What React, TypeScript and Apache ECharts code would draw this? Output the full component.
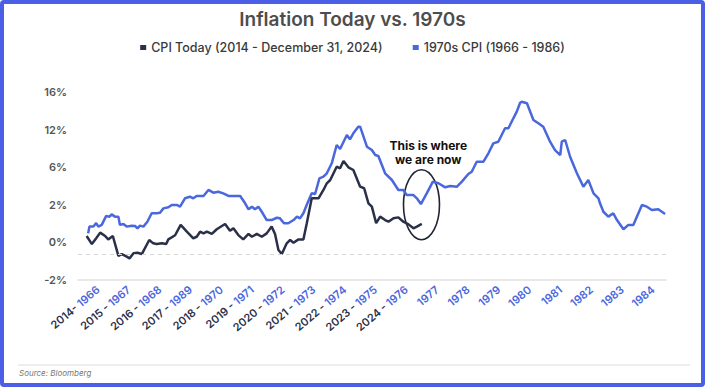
import React, { useEffect, useRef } from "react";
import * as echarts from "echarts";

// Axis ticks (the original chart spaces these labels evenly)
const yTickValues = [-2, 0, 2, 6, 12, 16];
const yTickLabels = ["-2%", "0%", "2%", "6%", "12%", "16%"];

const xTickYears = [1966, 1967, 1968, 1969, 1970, 1971, 1972, 1973, 1974, 1975, 1976, 1977, 1978, 1979, 1980, 1981, 1982, 1983, 1984];
const todayYearLabels = ["2014-", "2015 -", "2016 -", "2017 -", "2018 -", "2019 -", "2020 -", "2021 -", "2022 -", "2023 -", "2024 -", "", "", "", "", "", "", "", ""];
const seventiesYearLabels = ["1966", "1967", "1968", "1989", "1970", "1971", "1972", "1973", "1974", "1975", "1976", "1977", "1978", "1979", "1980", "1981", "1982", "1983", "1984"];

// [aligned year, CPI %]
const cpiToday: [number, number][] = [
  [1965.63, 0.34], [1965.8, -0.09], [1965.94, 0.22], [1966.07, 0.52], [1966.23, 0.34], [1966.33, 0.16], [1966.48, 0.34],
  [1966.66, -0.72], [1966.77, -0.62], [1966.93, -0.76], [1967.02, -0.85], [1967.15, -0.58], [1967.28, -0.55], [1967.42, -0.62],
  [1967.66, 0.13], [1967.79, -0.05], [1967.9, -0.09], [1968.07, -0.05], [1968.21, -0.09], [1968.28, 0.16], [1968.5, 0.38],
  [1968.68, 0.93], [1968.88, 0.57], [1969.09, 0.22], [1969.2, 0.3], [1969.31, 0.57], [1969.42, 0.48], [1969.53, 0.57],
  [1969.69, 0.45], [1969.85, 0.7], [1970.12, 0.98], [1970.28, 0.62], [1970.39, 0.75], [1970.55, 0.39], [1970.71, 0.16],
  [1970.88, 0.45], [1970.99, 0.3], [1971.15, 0.45], [1971.31, 0.3], [1971.47, 0.48], [1971.63, 0.84], [1971.74, 0.45],
  [1971.85, -0.4], [1971.96, -0.62], [1972.12, -0.05], [1972.23, 0.13], [1972.34, -0.02], [1972.5, 0.16], [1972.66, 0.16],
  [1972.77, 1.02], [1972.93, 2.69], [1973.15, 2.69], [1973.31, 3.58], [1973.42, 4.29], [1973.53, 4.64], [1973.74, 6.08],
  [1973.85, 5.88], [1973.96, 6.99], [1974.12, 5.99], [1974.28, 5.7], [1974.5, 3.93], [1974.63, 3.76], [1974.77, 2.16],
  [1974.88, 1.9], [1975.02, 1.02], [1975.15, 1.37], [1975.31, 1.19], [1975.42, 1.1], [1975.58, 1.28], [1975.74, 1.33],
  [1975.9, 1.1], [1976.07, 0.96], [1976.23, 0.75], [1976.34, 0.84], [1976.5, 0.98],
];

const cpi1970s: [number, number][] = [
  [1965.68, 0.48], [1965.72, 0.84], [1965.85, 0.84], [1965.94, 1.03], [1966.01, 0.84], [1966.12, 0.93], [1966.26, 1.4],
  [1966.37, 1.37], [1966.44, 1.49], [1966.55, 1.37], [1966.66, 1.37], [1966.71, 0.93], [1966.82, 0.98], [1966.93, 0.84],
  [1967.09, 0.89], [1967.2, 0.87], [1967.28, 0.75], [1967.36, 0.89], [1967.47, 0.84], [1967.6, 1.1], [1967.74, 1.55],
  [1967.9, 1.55], [1968.01, 1.58], [1968.12, 1.81], [1968.28, 1.87], [1968.39, 1.99], [1968.55, 1.99], [1968.66, 1.9],
  [1968.82, 2.69], [1968.98, 2.86], [1969.09, 2.69], [1969.2, 2.94], [1969.42, 2.94], [1969.58, 3.58], [1969.74, 3.29],
  [1969.9, 3.39], [1970.06, 3.22], [1970.23, 2.94], [1970.61, 2.94], [1970.77, 2.16], [1970.88, 1.76], [1970.99, 1.9],
  [1971.09, 1.76], [1971.2, 1.9], [1971.31, 1.63], [1971.47, 1.19], [1971.63, 1.19], [1971.8, 1.31], [1971.9, 1.28],
  [1972.03, 1.02], [1972.17, 1.02], [1972.34, 1.19], [1972.45, 1.37], [1972.55, 1.28], [1972.66, 1.55], [1972.79, 2.16],
  [1972.93, 3.22], [1973.04, 3.15], [1973.18, 4.82], [1973.31, 4.99], [1973.42, 5.35], [1973.58, 6.62], [1973.74, 9.54],
  [1973.85, 8.9], [1974.07, 11.14], [1974.17, 10.45], [1974.28, 11.41], [1974.44, 12.31], [1974.5, 12.31], [1974.72, 9.27],
  [1974.88, 8.74], [1974.99, 7.94], [1975.09, 7.79], [1975.31, 5.35], [1975.53, 4.64], [1975.74, 3.58], [1975.9, 3.58],
  [1976.01, 3.04], [1976.23, 3.04], [1976.34, 2.69], [1976.47, 2.08], [1976.66, 3.22], [1976.86, 4.46], [1977.04, 4.29],
  [1977.26, 3.86], [1977.42, 4.0], [1977.64, 3.93], [1977.8, 4.46], [1978.01, 5.28], [1978.12, 5.52], [1978.28, 6.88],
  [1978.5, 6.88], [1978.66, 8.22], [1978.82, 9.81], [1978.98, 10.07], [1979.2, 12.14], [1979.31, 12.14], [1979.47, 13.2],
  [1979.58, 13.91], [1979.69, 14.86], [1979.74, 14.97], [1979.91, 14.8], [1980.12, 13.02], [1980.28, 12.67], [1980.44, 12.31],
  [1980.66, 10.07], [1980.82, 8.74], [1980.99, 7.94], [1981.04, 10.07], [1981.15, 10.34], [1981.31, 7.67], [1981.53, 5.35],
  [1981.74, 3.93], [1981.9, 4.64], [1982.07, 3.22], [1982.23, 2.69], [1982.28, 2.16], [1982.39, 1.63], [1982.55, 1.37],
  [1982.71, 1.55], [1982.83, 1.19], [1983.04, 0.7], [1983.2, 0.93], [1983.36, 0.93], [1983.64, 1.99], [1983.8, 1.9],
  [1983.96, 1.72], [1984.17, 1.76], [1984.39, 1.51],
];

const referenceLineValue = -0.64;
const annotationText = "This is where\nwe are now";
const annotationCenter: [number, number] = [1976.49, 2.01];
const annotationTextPos: [number, number] = [1976.71, 8.28];

// map a % value onto the evenly spaced tick positions
function toAxis(v: number): number {
  for (let i = 0; i < yTickValues.length - 1; i++) {
    const a = yTickValues[i];
    const b = yTickValues[i + 1];
    if (v <= b || i === yTickValues.length - 2) {
      return i + (v - a) / (b - a);
    }
  }
  return 0;
}

const FONT = "Inter, 'Noto Sans', sans-serif";
const DARK = "#2b3049";
const BLUE = "#4a67dd";

export default function App() {
  const ref = useRef<HTMLDivElement>(null);
  useEffect(() => {
    if (!ref.current) return;
    const chart = echarts.init(ref.current, null, { renderer: "svg" });
    const option: any = {
      animation: false,
      backgroundColor: "#ffffff",
      textStyle: { fontFamily: FONT },
      title: {
        text: "Inflation Today vs. 1970s",
        left: "center",
        top: 5,
        textStyle: { fontFamily: FONT, fontSize: 19, fontWeight: 600, color: "#4d4d4d" },
      },
      legend: {
        top: 36,
        left: "center",
        icon: "rect",
        itemWidth: 6,
        itemHeight: 5,
        itemGap: 30,
        textStyle: { fontFamily: FONT, fontSize: 12.5, fontWeight: 500, color: "#3a3a3a" },
        data: ["CPI Today (2014 - December 31, 2024)", "1970s CPI (1966 - 1986)"],
      },
      grid: { left: 78, right: 39, top: 92, bottom: 108 },
      xAxis: {
        type: "value",
        min: 1965.35,
        max: 1984.42,
        axisLine: { show: true, lineStyle: { color: "#e2e2e2", width: 1.5 } },
        axisTick: { show: false },
        splitLine: { show: false },
        axisLabel: {
          customValues: xTickYears,
          rotate: 40,
          margin: 8,
          formatter: (value: number) => {
            const i = xTickYears.indexOf(Math.round(value));
            if (i < 0) return "";
            const t = todayYearLabels[i];
            return t ? `{d|${t} }{b|${seventiesYearLabels[i]}}` : `{b|${seventiesYearLabels[i]}}`;
          },
          rich: {
            d: { color: DARK, fontSize: 11, fontWeight: 600, fontFamily: FONT },
            b: { color: BLUE, fontSize: 11, fontWeight: 600, fontFamily: FONT },
          },
        },
      },
      yAxis: {
        type: "value",
        min: 0,
        max: 5,
        interval: 1,
        axisLine: { show: false },
        axisTick: { show: false },
        splitLine: { show: false },
        axisLabel: {
          margin: 11,
          color: "#555555",
          fontSize: 11,
          fontWeight: 600,
          fontFamily: FONT,
          formatter: (v: number) => yTickLabels[Math.round(v)] ?? "",
        },
      },
      series: [
        {
          name: "1970s CPI (1966 - 1986)",
          type: "line",
          z: 2,
          showSymbol: false,
          color: BLUE,
          lineStyle: { color: BLUE, width: 2.5 },
          data: cpi1970s.map(([x, y]) => [x, toAxis(y)]),
          markLine: {
            silent: true,
            symbol: "none",
            label: { show: false },
            lineStyle: { color: "#d5d5d5", type: [4, 4], width: 1 },
            data: [{ yAxis: toAxis(referenceLineValue) }],
          },
        },
        {
          name: "CPI Today (2014 - December 31, 2024)",
          type: "line",
          z: 3,
          showSymbol: false,
          color: DARK,
          lineStyle: { color: DARK, width: 2.5 },
          data: cpiToday.map(([x, y]) => [x, toAxis(y)]),
        },
      ],
    };
    chart.setOption(option);

    const c = chart.convertToPixel({ gridIndex: 0 }, [annotationCenter[0], toAxis(annotationCenter[1])]) as number[];
    const t = chart.convertToPixel({ gridIndex: 0 }, [annotationTextPos[0], toAxis(annotationTextPos[1])]) as number[];

    chart.setOption({
      graphic: [
        {
          type: "rect",
          shape: { x: 2, y: 2, width: 701, height: 383, r: 2 },
          style: { fill: "none", stroke: "#4a5fe6", lineWidth: 4 },
          silent: true,
        },
        {
          type: "line",
          shape: { x1: 18, y1: 365, x2: 690, y2: 365 },
          style: { stroke: "#dddddd", lineWidth: 1 },
          silent: true,
        },
        {
          type: "text",
          x: 19,
          y: 369,
          style: { text: "Source: Bloomberg", font: `italic 8px ${FONT}`, fill: "#777777" },
          silent: true,
        },
        {
          type: "ellipse",
          shape: { cx: c[0], cy: c[1], rx: 18, ry: 35 },
          style: { fill: "none", stroke: "#1f2336", lineWidth: 1.6 },
          silent: true,
        },
        {
          type: "text",
          x: t[0],
          y: t[1],
          style: {
            text: annotationText,
            font: `bold 12px ${FONT}`,
            fill: "#111111",
            align: "center",
            verticalAlign: "middle",
            lineHeight: 14,
          },
          silent: true,
        },
      ],
    });

    return () => chart.dispose();
  }, []);
  return (
    <div style={{ position: "fixed", left: 0, top: 0, width: 705, height: 388, background: "#fff" }}>
      <div ref={ref} style={{ width: 705, height: 388 }} />
    </div>
  );
}
